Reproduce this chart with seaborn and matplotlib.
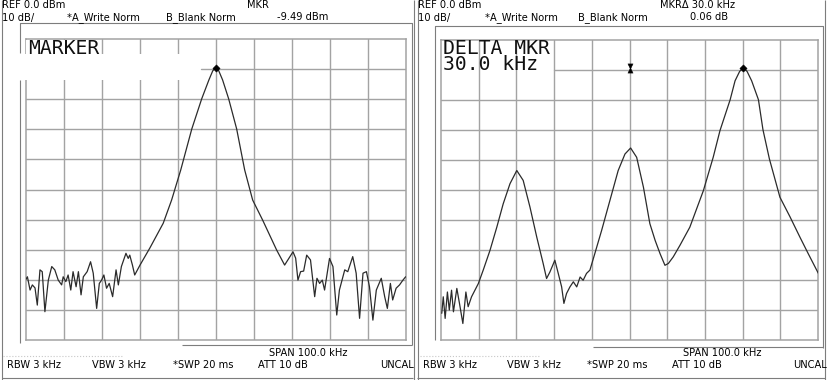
import matplotlib
matplotlib.use("Agg")
import matplotlib.pyplot as plt
import seaborn as sns
from matplotlib.patches import Rectangle

# ---- left screen: single carrier, marker on the peak (kHz from centre, dBm)
left_khz = [-50.0, -49.5, -48.8, -48.2, -47.5, -46.9, -46.2, -45.6, -44.9, -44.0,
            -43.1, -42.3, -41.4, -40.5, -40.1, -39.4, -38.8, -38.1, -37.5, -36.7,
            -36.1, -35.4, -34.8, -33.8, -32.9, -32.2, -31.3, -30.6, -30.0, -29.4,
            -28.7, -28.0, -27.1, -26.2, -25.6, -24.8, -23.6, -23.0, -22.6, -21.9,
            -21.3, -19.9, -17.3, -13.8, -11.6, -9.2, -6.3, -3.7, -1.8, -0.8,
            0.0, 0.8, 1.8, 3.4, 5.5, 7.6, 9.7, 12.3, 16.0, 18.1,
            20.3, 21.0, 21.6, 22.3, 23.1, 23.9, 24.9, 26.0, 26.6, 27.3,
            28.0, 28.6, 29.9, 30.8, 31.8, 32.5, 33.9, 34.7, 36.0, 36.9,
            37.8, 38.7, 39.6, 40.4, 41.3, 42.2, 43.5, 44.4, 45.1, 45.9,
            46.5, 47.4, 48.3, 49.2, 49.9]
left_dbm = [-80.1, -79.0, -83.4, -81.7, -82.7, -88.4, -76.7, -77.3, -90.6, -80.1,
            -75.6, -76.7, -80.1, -81.7, -79.0, -80.6, -78.4, -83.4, -77.3, -82.3,
            -77.3, -85.0, -79.0, -77.3, -74.0, -77.8, -89.5, -81.2, -80.1, -78.4,
            -82.8, -81.2, -85.6, -76.7, -81.7, -75.6, -71.2, -72.9, -71.8, -75.1,
            -78.4, -75.1, -69.4, -61.2, -53.5, -43.5, -29.9, -19.9, -13.6, -10.6,
            -9.5, -10.6, -13.6, -19.9, -29.9, -43.5, -53.5, -60.1, -70.1, -75.1,
            -70.7, -72.8, -80.1, -77.3, -77.1, -71.8, -73.4, -85.6, -79.5, -81.2,
            -80.1, -83.4, -72.9, -75.6, -91.7, -83.4, -76.7, -77.3, -72.3, -77.8,
            -92.8, -77.8, -77.3, -82.3, -93.4, -83.4, -79.5, -85.6, -89.5, -81.2,
            -86.7, -82.8, -81.7, -80.1, -79.0]
left_mkr_khz = 0.0
left_mkr_dbm = -9.49

# ---- right screen: three carriers, delta marker 30 kHz
right_khz = [-49.8, -49.4, -48.9, -48.3, -47.8, -47.2, -46.7, -45.8, -45.1, -44.2,
             -43.4, -42.8, -41.9, -41.0, -40.1, -38.8, -37.0, -35.2, -33.5, -31.7,
             -29.9, -28.2, -26.4, -24.6, -22.9, -22.0, -21.1, -19.8, -18.9, -18.0,
             -17.4, -16.7, -15.8, -14.9, -14.0, -13.1, -12.3, -11.4, -10.5, -9.2,
             -7.4, -5.2, -3.0, -1.2, 0.3, 1.9, 3.7, 5.4, 6.8, 8.1,
             9.4, 10.3, 11.6, 13.4, 16.0, 19.6, 22.2, 24.0, 26.7, 28.0,
             29.2, 30.2, 31.2, 32.4, 34.2, 35.4, 37.1, 39.9, 42.6, 45.2,
             47.4, 50.1]
right_dbm = [-91.1, -85.6, -92.8, -84.0, -90.0, -83.4, -90.6, -82.8, -87.8, -94.5,
             -84.0, -88.9, -85.6, -83.4, -81.2, -76.7, -70.1, -62.4, -54.6, -47.9,
             -43.5, -46.8, -55.7, -65.7, -74.5, -79.5, -77.3, -73.4, -77.8, -82.3,
             -87.8, -84.5, -82.3, -80.6, -82.3, -79.0, -80.1, -77.8, -76.7, -71.2,
             -63.5, -53.5, -43.5, -38.0, -36.0, -39.1, -49.1, -61.2, -66.8, -71.2,
             -75.1, -74.5, -72.3, -68.4, -62.4, -50.2, -39.1, -30.2, -19.9, -13.6,
             -10.5, -9.2, -10.5, -13.6, -19.9, -29.9, -39.6, -52.4, -59.0, -65.7,
             -71.2, -77.8]
right_mkr_khz = 30.2
right_mkr_dbm = -9.2
ref_mkr_khz = 0.1
ref_mkr_dbm = -9.3

# ---- screen annotations (text, x px, y px)
left_header = [("REF 0.0 dBm", 2, 5.5), ("MKR", 247, 5.5), ("10 dB/", 2, 17.5),
               ("*A_Write Norm", 67, 17.5), ("B_Blank Norm", 166, 17.5),
               ("-9.49 dBm", 277, 17.5)]
left_footer = [("SPAN 100.0 kHz", 269, 352.5), ("RBW 3 kHz", 7, 365),
               ("VBW 3 kHz", 92, 365), ("*SWP 20 ms", 173, 365),
               ("ATT 10 dB", 258, 365), ("UNCAL", 380, 365)]
right_header = [("REF 0.0 dBm", 418, 5.5), ("MKR\u0394 30.0 kHz", 660, 5.5),
                ("10 dB/", 418, 17.5), ("*A_Write Norm", 485, 17.5),
                ("B_Blank Norm", 578, 17.5), ("0.06 dB", 690, 17.5)]
right_footer = [("SPAN 100.0 kHz", 683, 352.5), ("RBW 3 kHz", 423, 365),
                ("VBW 3 kHz", 507, 365), ("*SWP 20 ms", 587, 365),
                ("ATT 10 dB", 672, 365), ("UNCAL", 793, 365)]
left_label = [("MARKER", 28, 39.5)]
right_label = [("DELTA MKR\n30.0 kHz", 443, 39.5)]

TRACE = "#2b2b2b"
GRID = "#a3a3a3"
FRAME = "#7d7d7d"

sns.set_style("white")
plt.rcParams["font.family"] = ["DejaVu Sans"]

W, H = 827, 380
fig = plt.figure(figsize=(W / 100, H / 100), dpi=100)

# full-figure overlay in pixel coordinates for the screen furniture
ov = fig.add_axes([0, 0, 1, 1])
ov.set_xlim(0, W)
ov.set_ylim(H, 0)
ov.axis("off")


def seg(pts, **kw):
    xs, ys = zip(*pts)
    ov.plot(xs, ys, color=kw.pop("color", FRAME), lw=kw.pop("lw", 0.8),
            solid_capstyle="butt", **kw)


for x in (1.5, 413.5, 417.5, 825):
    seg([(x, 0), (x, H)])
seg([(2, 377.5), (413, 377.5)])
seg([(417, 377.5), (825, 377.5)])
seg([(20, 53), (20, 23), (412, 23), (412, 345)])
seg([(20, 80), (20, 343)])
seg([(182, 345), (412, 345)])
seg([(435, 340), (435, 26), (823, 26), (823, 348)])
seg([(593, 346.5), (823, 346.5)])
seg([(3, 356), (123, 356)], color="#c8c8c8", ls=":", lw=0.8)
seg([(420, 356), (540, 356)], color="#c8c8c8", ls=":", lw=0.8)

for items in (left_header, left_footer, right_header, right_footer):
    for s, x, y in items:
        ov.text(x, y, s, fontsize=7.1, color="black", ha="left", va="center")


def screen(rect, khz, dbm):
    ax = fig.add_axes([rect[0] / W, 1 - rect[3] / H,
                       (rect[2] - rect[0]) / W, (rect[3] - rect[1]) / H])
    ax.set_facecolor("none")
    sns.lineplot(x=khz, y=dbm, ax=ax, sort=False, estimator=None,
                 color=TRACE, lw=0.9, zorder=4)
    ax.set_xlim(-50, 50)
    ax.set_ylim(-100, 0)
    ax.set_xticks([])
    ax.set_yticks([])
    ax.set_xlabel("")
    ax.set_ylabel("")
    for s in ax.spines.values():
        s.set_color(GRID)
        s.set_linewidth(1.1)
    return ax


axl = screen((25.5, 39, 406, 340), left_khz, left_dbm)
axr = screen((441, 40, 818, 340), right_khz, right_dbm)

for ax in (axl, axr):
    for v in range(-40, 50, 10):
        ax.axvline(v, color=GRID, lw=1.0, zorder=1)
    for v in range(-90, -10, 10):
        ax.axhline(v, color=GRID, lw=1.0, zorder=1)

axl.axhline(-10, xmin=0.46, color=GRID, lw=1.0, zorder=1)
axr.axhline(-10, xmin=0.30, color=GRID, lw=1.0, zorder=1)

# blank areas behind the on-screen labels
axl.add_patch(Rectangle((-52.5, -13.6), 48.2, 8.7, facecolor="white",
                        edgecolor="none", zorder=3, clip_on=False))
axl.add_patch(Rectangle((-49.8, -5.0), 19.4, 4.6, facecolor="white",
                        edgecolor="none", zorder=3, clip_on=False))

for ax, labels in ((axl, left_label), (axr, right_label)):
    for s, x, y in labels:
        ax.text(x, y, s, transform=ov.transData, fontsize=14.2,
                family="DejaVu Sans Mono", ha="left", va="top",
                linespacing=0.8, color="#111111", zorder=5)

# markers
sns.scatterplot(x=[left_mkr_khz], y=[left_mkr_dbm], ax=axl, marker="D", s=14,
                color="black", edgecolor="black", zorder=6)
sns.scatterplot(x=[right_mkr_khz], y=[right_mkr_dbm], ax=axr, marker="D", s=14,
                color="black", edgecolor="black", zorder=6)
sns.scatterplot(x=[ref_mkr_khz], y=[ref_mkr_dbm + 0.55], ax=axr, marker="v", s=14,
                color="black", edgecolor="black", zorder=6)
sns.scatterplot(x=[ref_mkr_khz], y=[ref_mkr_dbm - 0.55], ax=axr, marker="^", s=14,
                color="black", edgecolor="black", zorder=6)

fig.savefig("out.png", dpi=100)
